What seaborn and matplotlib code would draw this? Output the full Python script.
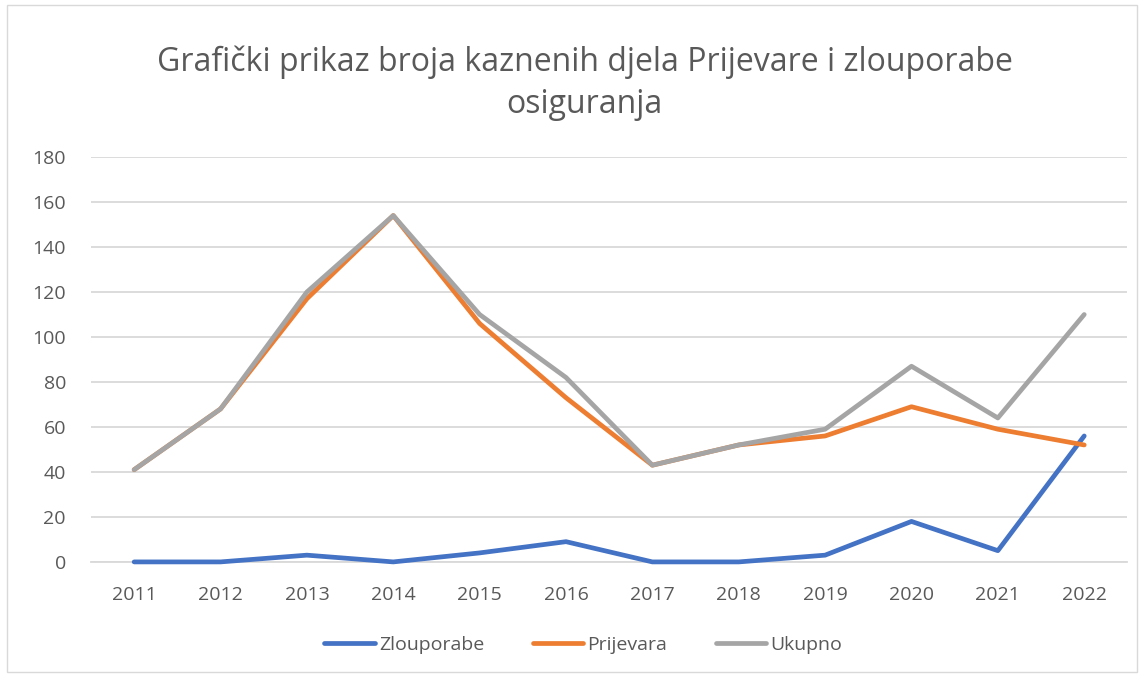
import matplotlib
matplotlib.use("Agg")
import matplotlib.pyplot as plt
import seaborn as sns
import pandas as pd
from matplotlib.patches import Rectangle

years = ["2011", "2012", "2013", "2014", "2015", "2016", "2017", "2018", "2019", "2020", "2021", "2022"]
zlouporabe = [0, 0, 3, 0, 4, 9, 0, 0, 3, 18, 5, 56]
prijevara = [41, 68, 117, 154, 106, 73, 43, 52, 56, 69, 59, 52]
ukupno = [41, 68, 120, 154, 110, 82, 43, 52, 59, 87, 64, 110]
series_names = ["Zlouporabe", "Prijevara", "Ukupno"]
colors = ["#4472C4", "#ED7D31", "#A5A5A5"]

rows = []
for name, vals in zip(series_names, [zlouporabe, prijevara, ukupno]):
    for i, (y, v) in enumerate(zip(years, vals)):
        rows.append({"idx": i, "year": y, "value": v, "series": name})
df = pd.DataFrame(rows)

sns.set_theme(style="white")
plt.rcParams["font.family"] = ["Open Sans", "DejaVu Sans"]

fig = plt.figure(figsize=(11.44, 6.77), dpi=100)
ax = fig.add_axes([0.0795, 0.170, 0.906, 0.598])

sns.lineplot(data=df, x="idx", y="value", hue="series", palette=colors,
             hue_order=series_names, linewidth=3.4, ax=ax, legend=True,
             solid_capstyle="round", solid_joinstyle="round")
for ln in ax.get_lines():
    ln.set_clip_on(False)
    ln.set_zorder(3)

ax.set_xlim(-0.5, len(years) - 0.5)
ax.set_ylim(0, 180)
ax.set_yticks(range(0, 181, 20))
ax.set_xticks(range(len(years)))
ax.set_xticklabels(years)
ax.grid(axis="y", color="#D9D9D9", linewidth=1.3)
ax.set_axisbelow(True)
for s in ["top", "right", "left"]:
    ax.spines[s].set_visible(False)
ax.spines["bottom"].set_color("#D9D9D9")
ax.spines["bottom"].set_linewidth(1.3)
ax.spines["bottom"].set_zorder(1)
ax.tick_params(axis="both", length=0, labelsize=14, labelcolor="#595959")
ax.tick_params(axis="x", pad=17)
ax.tick_params(axis="y", pad=18)
ax.set_xlabel("")
ax.set_ylabel("")

ax.legend(loc="center", bbox_to_anchor=(0.475, -0.205), ncol=3, frameon=False,
          fontsize=14, labelcolor="#595959", handlelength=2.6, handletextpad=0.2,
          columnspacing=2.5)
for h in ax.get_legend().get_lines():
    h.set_linewidth(3.4)

fig.text(0.511, 0.908, "Grafički prikaz broja kaznenih djela Prijevare i zlouporabe",
         ha="center", va="center", fontsize=23, color="#595959")
fig.text(0.511, 0.846, "osiguranja", ha="center", va="center", fontsize=23, color="#595959")

fig.patches.append(Rectangle((0.006, 0.008), 0.988, 0.985, transform=fig.transFigure,
                             fill=False, edgecolor="#D9D9D9", linewidth=1.0))

fig.savefig("out.png", dpi=100)
